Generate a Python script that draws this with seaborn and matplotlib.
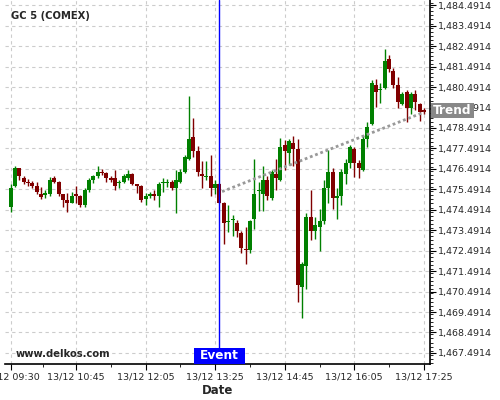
import numpy as np
import pandas as pd
import matplotlib
matplotlib.use("Agg")
import matplotlib.pyplot as plt
import matplotlib.ticker as mticker
import matplotlib.transforms as mtransforms
from matplotlib.patches import Rectangle
import seaborn as sns

# 5-minute candles, 13/12 09:30 -> 17:25
opens = [1474.64, 1475.67, 1476.52, 1476.03, 1475.86, 1475.79, 1475.67, 1475.26, 1475.23, 1475.26,
         1476.05, 1475.86, 1475.26, 1474.97, 1474.84, 1475.26, 1475.17, 1474.73, 1475.46, 1475.95,
         1476.14, 1476.35, 1476.28, 1476.05, 1476.05, 1475.79, 1475.86, 1476.05, 1476.24, 1475.75,
         1475.65, 1475.00, 1475.17, 1475.26, 1475.17, 1475.78, 1475.78, 1475.84, 1475.57, 1475.85,
         1476.34, 1476.99, 1478.05, 1477.37, 1476.26, 1476.08, 1476.14, 1475.57, 1475.75, 1474.84,
         1473.89, 1473.98, 1473.86, 1473.37, 1472.56, 1472.52, 1474.06, 1475.40, 1475.26, 1475.95,
         1475.08, 1476.24, 1475.95, 1477.66, 1477.28, 1477.77, 1477.46, 1470.73, 1471.74, 1474.15,
         1473.47, 1473.66, 1473.94, 1475.57, 1476.34, 1475.08, 1475.18, 1476.26, 1476.79, 1477.46,
         1476.79, 1476.44, 1477.95, 1478.69, 1480.58, 1480.37, 1480.46, 1481.87, 1481.28, 1480.59,
         1479.66, 1480.27, 1479.47, 1480.15, 1479.66, 1479.37]
highs = [1475.74, 1476.63, 1476.53, 1476.14, 1475.98, 1475.90, 1475.84, 1475.62, 1475.46, 1476.11,
         1476.14, 1475.90, 1475.26, 1475.30, 1475.36, 1475.65, 1475.21, 1475.56, 1476.05, 1476.19,
         1476.63, 1476.49, 1476.34, 1476.14, 1476.44, 1475.95, 1476.24, 1476.44, 1476.29, 1475.75,
         1475.70, 1475.31, 1475.36, 1475.46, 1475.85, 1476.05, 1476.00, 1475.95, 1476.44, 1476.49,
         1477.17, 1480.06, 1478.96, 1477.63, 1476.88, 1476.88, 1477.17, 1475.95, 1475.80, 1474.87,
         1474.73, 1474.24, 1474.00, 1473.47, 1473.66, 1473.99, 1476.96, 1475.84, 1476.63, 1476.14,
         1476.44, 1476.96, 1478.02, 1477.90, 1477.95, 1478.11, 1477.94, 1471.95, 1474.32, 1475.46,
         1474.14, 1474.52, 1475.95, 1477.42, 1476.52, 1475.56, 1476.47, 1476.96, 1477.66, 1477.58,
         1476.93, 1478.15, 1478.80, 1480.84, 1480.87, 1480.71, 1482.34, 1482.06, 1481.44, 1481.00,
         1480.27, 1480.35, 1480.27, 1480.35, 1479.70, 1479.47]
lows = [1474.40, 1475.61, 1475.95, 1475.74, 1475.65, 1475.54, 1475.25, 1475.00, 1475.07, 1475.17,
        1475.80, 1475.17, 1474.61, 1474.40, 1474.82, 1474.81, 1474.61, 1474.63, 1475.36, 1475.80,
        1476.05, 1476.19, 1475.85, 1475.85, 1475.46, 1475.56, 1475.80, 1475.95, 1475.70, 1475.31,
        1474.87, 1474.73, 1475.07, 1474.97, 1474.61, 1475.36, 1475.61, 1475.46, 1474.32, 1475.80,
        1476.29, 1476.93, 1477.09, 1476.14, 1475.54, 1475.95, 1475.17, 1475.26, 1474.80, 1472.80,
        1473.42, 1473.22, 1473.18, 1472.39, 1471.83, 1472.38, 1473.54, 1474.45, 1474.45, 1474.97,
        1474.97, 1475.46, 1475.90, 1476.44, 1476.68, 1476.63, 1469.99, 1469.19, 1470.60, 1473.01,
        1473.06, 1472.49, 1473.80, 1474.81, 1474.52, 1474.03, 1474.73, 1475.75, 1476.52, 1476.11,
        1476.05, 1476.39, 1477.55, 1478.64, 1479.53, 1479.73, 1480.42, 1481.24, 1480.43, 1479.45,
        1479.62, 1478.77, 1479.18, 1479.37, 1478.85, 1479.18]
closes = [1475.54, 1476.52, 1476.16, 1475.86, 1475.79, 1475.67, 1475.38, 1475.13, 1475.30, 1475.95,
          1475.86, 1475.26, 1474.97, 1474.84, 1475.17, 1475.17, 1474.73, 1475.46, 1475.95, 1476.14,
          1476.35, 1476.28, 1476.05, 1475.95, 1475.67, 1475.86, 1476.14, 1476.24, 1475.75, 1475.65,
          1474.97, 1475.17, 1475.26, 1475.17, 1475.75, 1475.79, 1475.80, 1475.57, 1475.95, 1476.34,
          1477.07, 1477.95, 1477.37, 1476.35, 1476.14, 1476.14, 1475.57, 1475.75, 1474.84, 1473.86,
          1473.92, 1474.01, 1473.47, 1472.64, 1472.52, 1473.94, 1475.26, 1475.43, 1475.95, 1475.17,
          1476.32, 1476.06, 1477.56, 1477.37, 1477.86, 1477.46, 1470.81, 1471.84, 1474.15, 1473.47,
          1473.75, 1473.94, 1475.54, 1476.34, 1475.08, 1475.18, 1476.34, 1476.79, 1477.58, 1476.79,
          1476.55, 1477.95, 1478.53, 1480.71, 1480.27, 1480.39, 1481.77, 1481.39, 1480.59, 1479.78,
          1480.15, 1479.48, 1480.15, 1479.78, 1479.29, 1479.29]

times = pd.date_range("2019-12-13 09:30", periods=len(opens), freq="5min")
tick_labels = ["13/12 09:30", "13/12 10:45", "13/12 12:05", "13/12 13:25",
               "13/12 14:45", "13/12 16:05", "13/12 17:25"]
event_time = "13/12 13:30"
trend_times = ["13/12 13:33", "13/12 17:25"]
trend_prices = [1475.38, 1479.26]
y_ticks = np.arange(1467.4914, 1484.5, 1.0)

df = pd.DataFrame({"time": times, "open": opens, "high": highs, "low": lows, "close": closes})
df["x"] = np.arange(len(df))
fmt = "%d/%m %H:%M"
lab = df["time"].dt.strftime(fmt)


def to_x(s):
    t = pd.to_datetime("2019/" + s, format="%Y/" + fmt)
    return (t - times[0]) / pd.Timedelta("5min")


sns.set_style("white")
plt.rcParams["font.family"] = ["DejaVu Sans"]

fig = plt.figure(figsize=(5, 4), dpi=100)
ax = fig.add_axes([0.01, 0.09, 0.85, 0.91])

up = df["close"] >= df["open"]
colors = np.where(up, "#008000", "#800000")
body = (df["close"] - df["open"]).abs().clip(lower=0.05)
bottom = df[["open", "close"]].min(axis=1)
ax.vlines(df["x"], df["low"], df["high"], colors=colors, lw=1, zorder=3)
ax.bar(df["x"], body, bottom=bottom, width=0.92, color=colors, linewidth=0, zorder=4)

# trend line
tdf = pd.DataFrame({"x": [to_x(t) for t in trend_times], "y": trend_prices})
sns.lineplot(data=tdf, x="x", y="y", ax=ax, color="#999999", lw=2,
             linestyle=(0, (1, 1)), zorder=5)

# event marker
ex = to_x(event_time)
ax.axvline(ex, color="#0000ff", lw=1, zorder=6)
xd = mtransforms.blended_transform_factory(ax.transData, ax.transAxes)
ax.add_patch(Rectangle((ex - 5.85, 0.0), 11.7, 0.044, transform=xd,
                       fc="#0000ff", ec="none", zorder=7, clip_on=False))
ax.text(ex, 0.022, "Event", transform=xd, color="white", fontsize=8.7,
        fontweight="bold", ha="center", va="center", zorder=8)

# trend label on the price scale
ya = mtransforms.blended_transform_factory(ax.transAxes, ax.transData)
ax.add_patch(Rectangle((1.0024, 1478.97), 0.101, 0.73, transform=ya,
                       fc="#888888", ec="none", zorder=7, clip_on=False))
ax.text(1.053, 1479.33, "Trend", transform=ya, color="white", fontsize=8.7,
        fontweight="bold", ha="center", va="center", clip_on=False, zorder=8)

ax.text(0.014, 0.956, "GC 5 (COMEX)", transform=ax.transAxes, fontsize=7.2,
        fontweight="bold", va="center", ha="left")
ax.text(0.024, 0.028, "www.delkos.com", transform=ax.transAxes, fontsize=7.2,
        fontweight="bold", va="center", ha="left")

ax.set_xlim(-1.3, 96.4)
ax.set_ylim(1466.95, 1484.75)

ax.yaxis.tick_right()
ax.set_yticks(y_ticks)
ax.yaxis.set_major_formatter(mticker.FuncFormatter(lambda v, p: f"{v:,.4f}"))
ax.yaxis.set_minor_locator(mticker.MultipleLocator(0.2))

xt = [int(np.where(lab == s)[0][0]) for s in tick_labels]
ax.set_xticks(xt)
ax.set_xticklabels(tick_labels)
ax.set_xticks([(a + b) / 2 for a, b in zip(xt[:-1], xt[1:])], minor=True)

ax.tick_params(axis="both", which="major", labelsize=6.8, length=4, width=0.8,
               direction="out", color="black", pad=2)
ax.tick_params(axis="both", which="minor", length=2, width=0.6, direction="out", color="black")
ax.tick_params(axis="y", which="both", left=False, right=True)
ax.tick_params(axis="x", which="both", bottom=True, top=False)

ax.grid(True, which="major", color="#cccccc", linestyle=(0, (3, 3)), lw=0.8)
ax.set_axisbelow(True)
for s in ["left", "top"]:
    ax.spines[s].set_visible(False)
for s in ["right", "bottom"]:
    ax.spines[s].set_color("black")
    ax.spines[s].set_linewidth(1.2)

ax.set_xlabel("Date", fontsize=8.5, fontweight="bold", labelpad=2)
ax.set_ylabel("")

fig.savefig("out.png", dpi=100)
